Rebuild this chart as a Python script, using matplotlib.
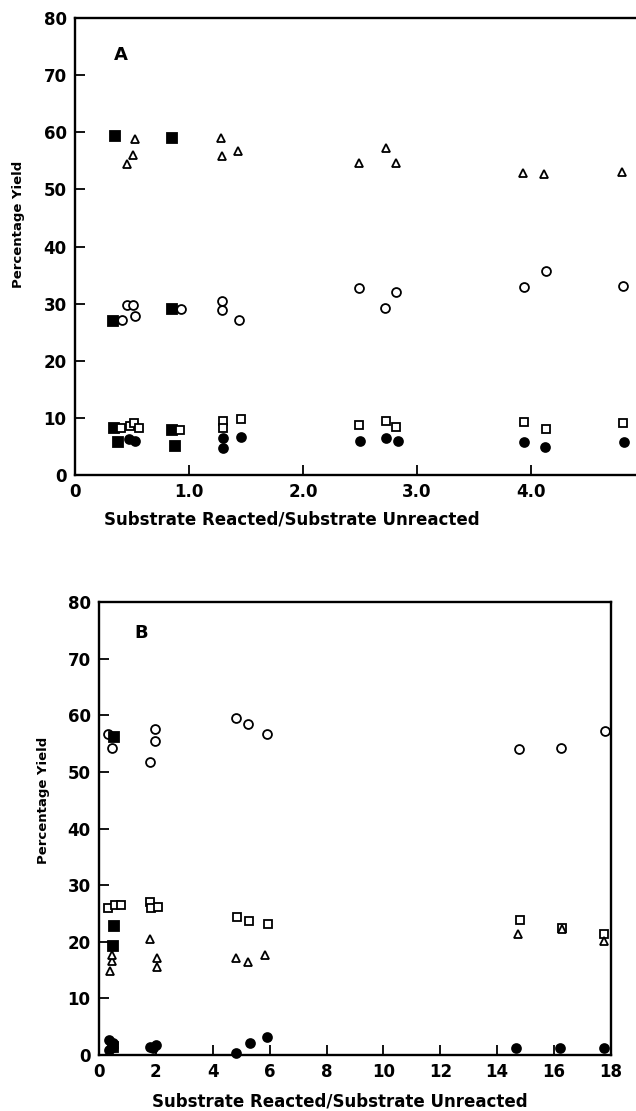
import matplotlib
matplotlib.use("Agg")
import matplotlib.pyplot as plt

plt.rcParams['font.family'] = ['DejaVu Sans']

# ---------------- Panel A data ----------------
a_fsq_x = [0.35, 0.85, 0.33, 0.85, 0.34, 0.38, 0.85, 0.88]
a_fsq_y = [59.3, 59.0, 27.0, 29.0, 8.2, 5.7, 7.8, 5.0]
a_tri_x = [0.53, 0.51, 0.46, 1.28, 1.29, 1.43, 2.49, 2.73, 2.82, 3.93, 4.11, 4.80]
a_tri_y = [58.8, 56.0, 54.5, 59.0, 55.8, 56.8, 54.6, 57.2, 54.7, 52.9, 52.7, 53.0]
a_cir_x = [0.41, 0.46, 0.51, 0.53, 0.93, 1.29, 1.29, 1.44, 2.49, 2.72, 2.82, 3.94, 4.13, 4.81]
a_cir_y = [27.1, 29.8, 29.7, 27.9, 29.0, 30.4, 28.9, 27.1, 32.7, 29.2, 32.0, 32.9, 35.7, 33.0]
a_osq_x = [0.40, 0.48, 0.52, 0.56, 0.92, 1.30, 1.30, 1.46, 2.49, 2.73, 2.82, 3.94, 4.13, 4.81]
a_osq_y = [8.2, 8.6, 9.1, 8.3, 7.8, 9.5, 8.2, 9.8, 8.7, 9.5, 8.4, 9.3, 8.1, 9.1]
a_fci_x = [0.47, 0.53, 1.30, 1.30, 1.46, 2.50, 2.73, 2.83, 3.94, 4.12, 4.82]
a_fci_y = [6.3, 6.0, 6.4, 4.7, 6.7, 5.9, 6.4, 5.9, 5.8, 4.9, 5.7]
a_xticks = [0, 1, 2, 3, 4]
a_xticklabels = ["0", "1.0", "2.0", "3.0", "4.0"]

# ---------------- Panel B data ----------------
b_cir_x = [0.31, 0.44, 1.78, 1.98, 1.98, 4.80, 5.24, 5.92, 14.75, 16.23, 17.80]
b_cir_y = [56.7, 54.3, 51.8, 57.6, 55.4, 59.5, 58.4, 56.7, 54.1, 54.3, 57.2]
b_fsq_x = [0.52, 0.52, 0.50, 0.50]
b_fsq_y = [56.2, 22.8, 19.2, 1.5]
b_osq_x = [0.30, 0.55, 0.78, 1.81, 1.84, 2.06, 4.84, 5.28, 5.94, 14.80, 16.28, 17.75]
b_osq_y = [26.0, 26.5, 26.5, 27.0, 26.0, 26.2, 24.3, 23.7, 23.1, 23.8, 22.5, 21.4]
b_tri_x = [0.38, 0.46, 0.46, 1.81, 2.03, 2.03, 4.83, 5.25, 5.85, 14.74, 16.28, 17.75]
b_tri_y = [14.9, 16.6, 17.6, 20.5, 17.1, 15.6, 17.1, 16.4, 17.6, 21.3, 22.3, 20.1]
b_fci_x = [0.36, 0.50, 0.48, 0.36, 1.79, 1.90, 2.02, 4.83, 5.30, 5.92, 14.67, 16.20, 17.75]
b_fci_y = [2.6, 2.1, 1.5, 0.9, 1.5, 1.2, 1.7, 0.3, 2.2, 3.1, 1.2, 1.2, 1.2]
b_xticks = [0, 2, 4, 6, 8, 10, 12, 14, 16, 18]
b_xticklabels = [str(t) for t in b_xticks]

yticks = [0, 10, 20, 30, 40, 50, 60, 70, 80]
ylabel = "Percentage Yield"
xlabel = "Substrate Reacted/Substrate Unreacted"

W, H = 636, 1111
fig = plt.figure(figsize=(W / 100, H / 100), dpi=100)

FS = 12
MS = 6.4
MEW = 1.3


def px_axes(left, top, right, bottom):
    return fig.add_axes([left / W, 1 - bottom / H, (right - left) / W, (bottom - top) / H])


def style(ax):
    for s in ax.spines.values():
        s.set_linewidth(1.7)
    ax.tick_params(direction='in', length=7, width=1.3, labelsize=FS, pad=6)
    ax.set_yticks(yticks)
    ax.set_ylim(0, 80)


def boldticks(ax):
    for lab in ax.get_xticklabels() + ax.get_yticklabels():
        lab.set_fontweight('bold')


def pts(ax, x, y, marker, filled, size=MS):
    ax.plot(x, y, linestyle='none', marker=marker, markersize=size,
            markerfacecolor='black' if filled else 'white',
            markeredgecolor='black', markeredgewidth=MEW, clip_on=False, zorder=3)


# ---------------- Panel A ----------------
axA = px_axes(75, 18, 640, 475)
style(axA)
axA.set_xlim(0, (640 - 75) / 114)
axA.spines['right'].set_visible(False)
axA.set_xticks(a_xticks)
axA.set_xticklabels(a_xticklabels)
boldticks(axA)
pts(axA, a_fsq_x, a_fsq_y, 's', True, MS + 0.6)
pts(axA, a_tri_x, a_tri_y, '^', False, MS - 0.4)
pts(axA, a_cir_x, a_cir_y, 'o', False)
pts(axA, a_fci_x, a_fci_y, 'o', True)
pts(axA, a_osq_x, a_osq_y, 's', False)
axA.text(0.40, 73.5, "A", fontsize=FS + 1, ha='center', va='center', fontweight='bold')
fig.text(19 / W, 1 - 224 / H, ylabel, rotation=90, fontsize=9.5,
         ha='center', va='center', fontweight='bold')
fig.text(292 / W, 1 - 519 / H, xlabel, fontsize=12, ha='center', va='center',
         fontweight='bold')

# ---------------- Panel B ----------------
axB = px_axes(99, 602, 611, 1055)
style(axB)
axB.set_xlim(0, 18)
axB.set_xticks(b_xticks)
axB.set_xticklabels(b_xticklabels)
boldticks(axB)
pts(axB, b_cir_x, b_cir_y, 'o', False)
pts(axB, b_fsq_x, b_fsq_y, 's', True, MS + 0.6)
pts(axB, b_fci_x, b_fci_y, 'o', True)
pts(axB, b_osq_x, b_osq_y, 's', False)
pts(axB, b_tri_x, b_tri_y, '^', False, MS - 0.8)
axB.text(1.5, 74.5, "B", fontsize=FS + 1, ha='center', va='center', fontweight='bold')
fig.text(43 / W, 1 - 800 / H, ylabel, rotation=90, fontsize=9.5,
         ha='center', va='center', fontweight='bold')
fig.text(340 / W, 1 - 1101 / H, xlabel, fontsize=12, ha='center', va='center',
         fontweight='bold')

fig.savefig("out.png", dpi=100)
